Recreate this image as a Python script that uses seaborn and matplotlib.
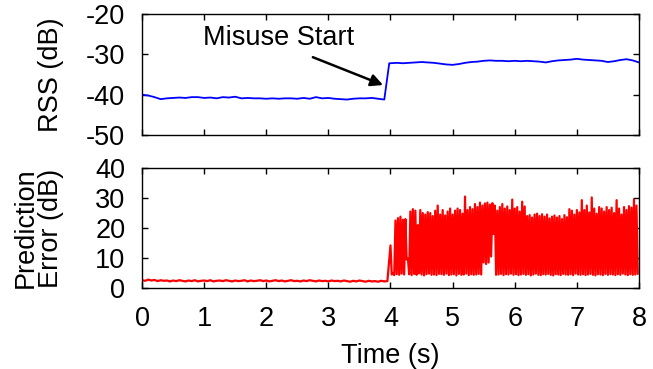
import numpy as np
import pandas as pd
import matplotlib
matplotlib.use('Agg')
import matplotlib.pyplot as plt
import seaborn as sns

# RSS trace (dB), before and after the misuse starts
rss_pre = [-40.0, -40.2, -40.6, -41.1, -40.9, -40.8, -40.7, -40.8, -40.6, -40.6,
           -40.8, -40.7, -40.9, -40.6, -40.7, -40.5, -40.9, -40.8, -40.9, -40.9,
           -41.0, -40.9, -41.0, -40.9, -40.9, -41.0, -40.8, -41.0, -40.6, -40.9,
           -40.8, -41.0, -41.1, -41.2, -41.0, -40.9, -40.9, -40.8, -41.0, -41.2]
rss_post = [-32.2, -32.1, -32.2, -32.1, -32.0, -31.9, -32.0, -32.1, -32.3, -32.5,
            -32.6, -32.4, -32.1, -31.9, -31.8, -31.6, -31.5, -31.6, -31.6, -31.7,
            -31.6, -31.7, -31.6, -31.7, -31.8, -32.0, -31.7, -31.5, -31.4, -31.3,
            -31.1, -31.3, -31.4, -31.5, -31.6, -31.9, -31.7, -31.4, -31.2, -31.5, -32.0]

# prediction error (dB)
err_pre = [2.6, 2.4, 2.8, 2.5, 2.7, 2.3, 2.6, 2.4, 2.5, 2.2,
           2.5, 2.3, 2.6, 2.4, 2.2, 2.5, 2.3, 2.6, 2.2, 2.4,
           2.5, 2.3, 2.6, 2.2, 2.4, 2.5, 2.3, 2.6, 2.4, 2.2,
           2.5, 2.3, 2.4, 2.6, 2.2, 2.5, 2.3, 2.4, 2.6, 2.3,
           2.5, 2.2, 2.4, 2.6, 2.3, 2.5, 2.2, 2.4, 2.6, 2.3,
           2.4, 2.2, 2.5, 2.3, 2.6, 2.4, 2.2, 2.5, 2.3, 2.4,
           2.2, 2.5, 2.3, 2.4, 2.2, 2.5, 2.3, 2.1, 2.4, 2.2,
           2.5, 2.3, 2.1, 2.4, 2.2, 2.3, 2.1, 2.4, 2.2, 2.3]
err_peaks = [14.2, 5.0, 22.5, 23.3, 23.8, 22.8, 23.0, 10.0, 25.5, 26.3,
             25.8, 21.0, 26.0, 25.0, 24.5, 25.3, 25.0, 24.0, 25.8, 27.5,
             24.5, 26.0, 24.2, 25.5, 26.5, 24.5, 25.8, 26.5, 26.0, 24.8,
             30.5, 26.0, 27.0, 26.3, 28.0, 27.0, 28.5, 27.5, 28.2, 28.5,
             27.8, 28.3, 27.5, 25.8, 27.0, 28.0, 26.5, 27.2, 26.0, 29.5,
             26.5, 27.0, 25.5, 28.8, 27.2, 24.0, 24.3, 23.5, 24.5, 24.8,
             24.0, 24.6, 23.8, 24.5, 23.2, 23.8, 24.2, 23.5, 24.0, 23.0,
             24.3, 23.6, 26.3, 25.8, 24.5, 26.0, 25.2, 29.3, 26.0, 27.5,
             25.2, 30.2, 26.5, 24.8, 27.0, 26.5, 25.5, 27.0, 26.0, 26.8,
             25.0, 29.3, 26.5, 24.5, 27.0, 26.0, 27.3, 26.8, 29.5, 27.5]
err_troughs = [4.5, 4.3, 4.6, 4.4, 4.8, 4.5, 9.5, 4.6, 4.3, 4.7,
               4.4, 4.9, 4.5, 4.2, 4.6, 4.8, 4.4, 4.5, 4.3, 4.7,
               4.6, 4.4, 4.8, 4.3, 4.5, 4.6, 4.2, 4.7, 4.4, 4.5,
               4.8, 4.3, 4.6, 4.4, 4.5, 4.7, 4.5, 8.5, 8.0, 8.5,
               10.5, 18.0, 4.4, 4.5, 4.7, 4.3, 4.6, 4.5, 4.8, 4.4,
               4.6, 4.3, 4.5, 4.7, 4.4, 4.6, 4.2, 4.5, 4.8, 4.4,
               4.3, 4.6, 4.5, 4.7, 4.4, 4.2, 4.6, 4.5, 4.3, 4.7,
               4.5, 4.4, 4.6, 4.3, 4.8, 4.5, 4.4, 4.6, 4.3, 4.5,
               4.7, 4.4, 4.2, 4.6, 4.5, 4.3, 4.7, 4.4, 4.6, 4.5,
               4.3, 4.6, 4.4, 4.8, 4.5, 4.3, 4.6, 4.4, 4.5, 4.7]

x_ticks = [0, 1, 2, 3, 4, 5, 6, 7, 8]
rss_ticks = [-50, -40, -30, -20]
err_ticks = [0, 10, 20, 30, 40]

# time axes
t_rss = np.concatenate([np.arange(len(rss_pre)) * 0.1, [3.98], 4.0 + np.arange(len(rss_post)) * 0.1])
v_rss = np.concatenate([rss_pre, [rss_post[0]], rss_post])
rss = pd.DataFrame({'t': t_rss, 'v': v_rss})

t_peak = 4.0 + np.arange(len(err_peaks)) * 0.04
t_trough = t_peak + 0.02
t_post = np.column_stack([t_peak, t_trough]).ravel()
v_post = np.column_stack([err_peaks, err_troughs]).ravel()
err = pd.DataFrame({'t': np.concatenate([np.arange(len(err_pre)) * 0.05, t_post]),
                    'v': np.concatenate([err_pre, v_post])})

sns.set_theme(style='ticks')
plt.rcParams['font.family'] = ['Liberation Sans', 'DejaVu Sans']
plt.rcParams.update({
    'font.size': 19.5,
    'axes.unicode_minus': False,
    'text.color': 'black', 'axes.labelcolor': 'black',
    'xtick.direction': 'in', 'ytick.direction': 'in',
    'xtick.top': True, 'ytick.right': True,
    'xtick.major.size': 4, 'ytick.major.size': 4,
    'xtick.major.width': 1, 'ytick.major.width': 1,
    'xtick.major.pad': 13, 'ytick.major.pad': 12,
    'xtick.color': 'black', 'ytick.color': 'black',
    'axes.edgecolor': 'black', 'axes.linewidth': 1.0,
    'axes.labelsize': 19.5, 'xtick.labelsize': 19.5, 'ytick.labelsize': 19.5,
})

fig = plt.figure(figsize=(6.53, 3.69), dpi=100)
ax1 = fig.add_axes([0.2175, 0.634, 0.761, 0.328])
ax2 = fig.add_axes([0.2175, 0.2195, 0.761, 0.325])

sns.lineplot(data=rss, x='t', y='v', ax=ax1, color='#0000ff', linewidth=1.3, sort=False)
sns.lineplot(data=err, x='t', y='v', ax=ax2, color='#ff0000', linewidth=1.6, sort=False)

ax1.set_xlim(0, 8)
ax1.set_ylim(-50, -20)
ax1.set_xticks(x_ticks)
ax1.set_xticklabels([])
ax1.set_yticks(rss_ticks)
ax1.set_xlabel('')
ax1.set_ylabel('RSS (dB)')
ax1.yaxis.set_label_coords(-0.158, 0.5)

ax2.set_xlim(0, 8)
ax2.set_ylim(0, 40)
ax2.set_xticks(x_ticks)
ax2.set_yticks(err_ticks)
ax2.set_xlabel('Time (s)', labelpad=8)
ax2.set_ylabel('Prediction\nError (dB)', linespacing=0.95)
ax2.yaxis.set_label_coords(-0.158, 0.5)

ax1.text(2.2, -25.9, 'Misuse Start', ha='center', va='center', fontsize=19.5)
ax1.annotate('', xy=(3.88, -37.6), xytext=(2.75, -30.7),
             arrowprops=dict(arrowstyle='-|>', color='black', lw=1.8, mutation_scale=18,
                             shrinkA=0, shrinkB=0))

fig.savefig('out.png', dpi=100)
